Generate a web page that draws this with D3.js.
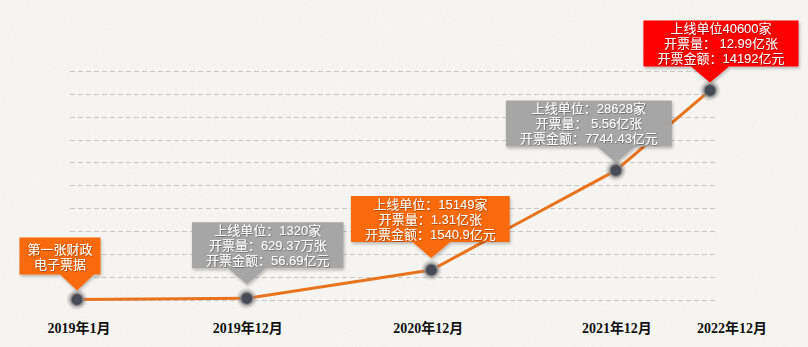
<!DOCTYPE html>
<html><head><meta charset="utf-8">
<script src="https://cdn.jsdelivr.net/npm/d3@7/dist/d3.min.js"></script>
<style>html,body{margin:0;padding:0;background:#f5f4f0;}svg{display:block;}</style>
</head><body>
<svg id="chart" width="808" height="347"></svg>
<script>
// ---- data ----
const categories = ["2019年1月", "2019年12月", "2020年12月", "2021年12月", "2022年12月"];
const slots = [0, 0.92, 1.92, 2.92, 3.43];          // position along the time axis
const levels = [0, 0.05, 1.29, 5.65, 9.15];         // height of the growth line (grid units)
const gridTicks = [0, 1, 2, 3, 4, 5, 6, 7, 8, 9, 10];
const calloutLines = [
  ["第一张财政", "电子票据"],
  ["上线单位：1320家", "开票量：629.37万张", "开票金额：56.69亿元"],
  ["上线单位：15149家", "开票量：1.31亿张", "开票金额：1540.9亿元"],
  ["上线单位：28628家", "开票量： 5.56亿张", "开票金额：7744.43亿元"],
  ["上线单位40600家", "开票量： 12.99亿张", "开票金额：14192亿元"]
];
const calloutColors = ["#f96b0c", "#a6a6a6", "#f96b0c", "#a6a6a6", "#fe0000"];
// layout tweaks (not data)
const calloutShift = [-17, 21, -1, -27, 11];
const calloutGap = [9, 14, 12, 8, 8];
const labelShift = [2, 1, -3, 1, 22];

const svg = d3.select("#chart");
const W = 808, H = 347;

const defs = svg.append("defs");
const noise = defs.append("filter").attr("id", "paper").attr("x", 0).attr("y", 0).attr("width", 1).attr("height", 1);
noise.append("feTurbulence").attr("type", "fractalNoise").attr("baseFrequency", 0.9).attr("numOctaves", 2).attr("seed", 3).attr("result", "n");
noise.append("feColorMatrix").attr("in", "n").attr("type", "matrix")
  .attr("values", "0 0 0 0 0.55  0 0 0 0 0.54  0 0 0 0 0.5  0 0 0 -0.9 0.55");
const shadow = defs.append("filter").attr("id", "shadow").attr("x", "-10%").attr("y", "-10%").attr("width", "130%").attr("height", "140%");
shadow.append("feDropShadow").attr("dx", 1).attr("dy", 2).attr("stdDeviation", 1.5).attr("flood-color", "#000").attr("flood-opacity", 0.25);
const txtShadow = defs.append("filter").attr("id", "tshadow");
txtShadow.append("feDropShadow").attr("dx", 0.7).attr("dy", 0.7).attr("stdDeviation", 0.4).attr("flood-color", "#000").attr("flood-opacity", 0.4);
const halo = defs.append("radialGradient").attr("id", "halo");
halo.append("stop").attr("offset", "0%").attr("stop-color", "#555").attr("stop-opacity", 0.9);
halo.append("stop").attr("offset", "55%").attr("stop-color", "#777").attr("stop-opacity", 0.65);
halo.append("stop").attr("offset", "100%").attr("stop-color", "#999").attr("stop-opacity", 0);

svg.append("rect").attr("width", W).attr("height", H).attr("fill", "#f6f5f1");
svg.append("rect").attr("width", W).attr("height", H).attr("filter", "url(#paper)").attr("opacity", 0.18);

const x = d3.scaleLinear().domain([0, 3.43]).range([77, 710]);
const y = d3.scaleLinear().domain([0, 10]).range([299.5, 71]);

// grid
svg.append("g").selectAll("line").data(gridTicks).join("line")
  .attr("x1", 70).attr("x2", 717)
  .attr("y1", d => Math.round(y(d)) + 0.5).attr("y2", d => Math.round(y(d)) + 0.5)
  .attr("stroke", "#c8c8c8").attr("stroke-width", 1).attr("stroke-dasharray", "5,3");

const pts = categories.map((c, i) => ({ c, s: slots[i], v: levels[i], i }));

// line
svg.append("path").datum(pts)
  .attr("d", d3.line().x(d => x(d.s)).y(d => y(d.v)))
  .attr("fill", "none").attr("stroke", "#e8731c").attr("stroke-width", 3);

// points
const pg = svg.append("g").selectAll("g").data(pts).join("g")
  .attr("transform", d => `translate(${x(d.s)},${y(d.v)})`);
pg.append("circle").attr("r", 11).attr("fill", "url(#halo)");
pg.append("circle").attr("r", 6).attr("fill", "#474b55").attr("stroke", "#8a8a8a").attr("stroke-width", 1.2);

// x labels
svg.append("g").selectAll("text").data(pts).join("text")
  .attr("x", d => x(d.s) + labelShift[d.i]).attr("y", 328)
  .attr("text-anchor", "middle").attr("dominant-baseline", "central")
  .attr("font-family", "'Liberation Serif','Noto Sans CJK SC',serif")
  .attr("font-weight", "bold").attr("font-size", 14).attr("fill", "#111")
  .text(d => d.c);

// callouts
const triH = 16, triW = 38, lineH = 15;
pts.forEach(d => {
  const lines = calloutLines[d.i];
  const px = x(d.s), py = y(d.v);
  const tipY = py - calloutGap[d.i];
  const boxBottom = tipY - triH;
  const g = svg.append("g");
  const shape = g.append("path").attr("fill", calloutColors[d.i]).attr("filter", "url(#shadow)");
  const cx = px + calloutShift[d.i];
  const boxH = lines.length === 2 ? 37 : 46;
  const boxTop = boxBottom - boxH;
  const textTop = boxTop + (boxH - lines.length * lineH) / 2;
  const text = g.append("text").attr("filter", "url(#tshadow)")
    .attr("text-anchor", "middle")
    .attr("font-family", "'Liberation Sans','Noto Sans CJK SC',sans-serif")
    .attr("font-size", 13).attr("fill", "#fff");
  const spans = text.selectAll("tspan").data(lines).join("tspan")
    .attr("x", cx).attr("y", (t, k) => textTop + lineH * (k + 0.5) + 5)
    .text(t => t);
  let maxW = 0;
  spans.each(function () { maxW = Math.max(maxW, this.getComputedTextLength()); });
  const boxW = maxW + (lines.length === 2 ? 16 : 28);
  const l = cx - boxW / 2, r = cx + boxW / 2;
  const tw = lines.length === 2 ? 34 : triW;
  const p = d3.path();
  p.moveTo(l, boxTop); p.lineTo(r, boxTop); p.lineTo(r, boxBottom);
  p.lineTo(px + tw / 2, boxBottom); p.lineTo(px, tipY); p.lineTo(px - tw / 2, boxBottom);
  p.lineTo(l, boxBottom); p.closePath();
  shape.attr("d", p.toString());
});
</script>
</body></html>
